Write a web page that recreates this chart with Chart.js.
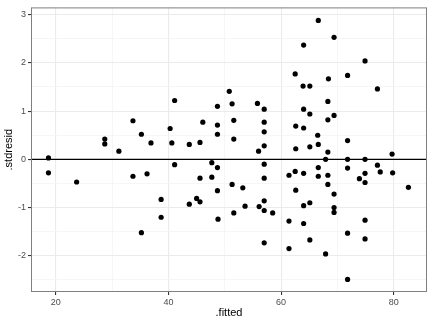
<!DOCTYPE html>
<html>
<head>
<meta charset="utf-8">
<script src="https://cdn.jsdelivr.net/npm/chart.js@4"></script>
<style>
  html, body { margin: 0; padding: 0; background: #fff; }
</style>
</head>
<body>
<canvas id="residChart" width="432" height="324"></canvas>
<script>
// fitted values vs standardised residuals
const fitted = [
    18.7, 18.7, 23.7, 28.7, 28.7, 31.2, 33.7, 33.7, 35.2, 35.2,
    36.9, 36.2, 38.7, 38.7, 40.3, 40.6, 41.1, 41.1, 43.7, 43.7,
    45.0, 45.6, 45.6, 45.6, 46.1, 47.7, 47.7, 48.7, 48.7, 48.7,
    48.7, 48.7, 48.8, 50.8, 51.3, 51.6, 51.6, 51.3, 51.6, 53.2,
    53.6, 55.8, 56.0, 56.1, 57.0, 57.0, 57.0, 57.0, 57.0, 57.0,
    57.0, 57.0, 57.0, 58.5, 61.4, 61.4, 61.4, 62.5, 62.6, 62.6,
    62.5, 62.6, 64.0, 63.9, 64.0, 64.0, 64.0, 64.0, 64.0, 65.1,
    65.1, 65.1, 65.1, 65.1, 66.6, 66.5, 66.6, 66.6, 66.6, 67.9,
    67.9, 68.4, 68.3, 68.3, 68.3, 68.3, 68.3, 69.4, 69.4, 69.4,
    69.4, 69.4, 71.8, 71.8, 71.8, 71.8, 71.8, 71.8, 73.9, 74.9,
    74.9, 74.9, 74.9, 74.9, 74.9, 77.1, 77.1, 77.6, 79.7, 79.8,
    82.6
];
const stdresid = [
    0.03, -0.28, -0.47, 0.42, 0.32, 0.17, 0.80, -0.35, 0.52, -1.52,
    0.34, -0.30, -0.83, -1.20, 0.64, 0.34, 1.22, -0.11, 0.31, -0.93,
    -0.81, 0.35, -0.39, -0.88, 0.77, -0.07, -0.37, 1.10, 0.71, 0.52,
    -0.17, -0.65, -1.24, 1.41, 1.15, 0.81, 0.42, -0.52, -1.11, -0.59,
    -0.97, 1.16, 0.17, -0.98, 1.04, 0.77, 0.57, 0.28, -0.10, -0.39,
    -0.86, -1.06, -1.73, -1.11, -0.33, -1.28, -1.85, 1.77, 0.69, 0.22,
    -0.25, -0.64, 2.37, 1.52, 1.04, 0.65, -0.29, -0.96, -1.33, 1.52,
    0.94, 0.26, -0.90, -1.67, 2.88, 0.50, 0.31, -0.17, -0.35, 0.00,
    -1.96, 1.67, 1.20, 0.82, 0.15, -0.33, -0.52, 2.53, 0.91, -0.72,
    -1.00, -1.10, 1.74, 0.39, 0.00, -0.18, -1.53, -2.49, -0.40, 2.04,
    0.00, -0.29, -0.48, -1.26, -1.65, 1.46, -0.12, -0.26, 0.11, -0.28,
    -0.58
];

const xTicks = [20, 40, 60, 80];
const xMinor = [30, 50, 70];
const yTicks = [-2, -1, 0, 1, 2, 3];
const yMinor = [-2.5, -1.5, -0.5, 0.5, 1.5, 2.5];
const xRange = [15.6, 85.9];
const yRange = [-2.75, 3.15];
const refLine = 0;

const fontFamily = '"Liberation Sans", Arial, Helvetica, sans-serif';

function allTicks(major, minor) {
    return major.concat(minor).sort((a, b) => a - b).map(v => ({ value: v }));
}

function gridColor(major) {
    return function (ctx) {
        return ctx.tick && major.includes(ctx.tick.value) ? '#EBEBEB' : '#F4F4F4';
    };
}

function tickColor(major) {
    return function (ctx) {
        return ctx.tick && major.includes(ctx.tick.value) ? '#333333' : 'rgba(0,0,0,0)';
    };
}

// ggplot theme_bw style border round the panel
const panelBorder = {
    id: 'panelBorder',
    afterDraw(chart) {
        const { ctx, chartArea: a } = chart;
        ctx.save();
        ctx.strokeStyle = '#7F7F7F';
        ctx.lineWidth = 1;
        ctx.strokeRect(a.left + 0.5, a.top + 0.5, a.right - a.left - 1, a.bottom - a.top - 1);
        ctx.restore();
    }
};

const ctx = document.getElementById('residChart').getContext('2d');
new Chart(ctx, {
    type: 'scatter',
    data: {
        datasets: [{
            type: 'line',
            data: [{ x: xRange[0], y: refLine }, { x: xRange[1], y: refLine }],
            borderColor: '#000000',
            borderWidth: 1.1,
            pointRadius: 0,
            fill: false,
            order: 0
        }, {
            data: fitted.map((f, i) => ({ x: f, y: stdresid[i] })),
            backgroundColor: '#000000',
            borderWidth: 0,
            pointRadius: 2.6,
            order: 1
        }]
    },
    options: {
        responsive: false,
        devicePixelRatio: 1,
        animation: false,
        layout: {
            padding: { left: 0, top: 5, right: 5, bottom: 0 }
        },
        plugins: {
            legend: { display: false },
            tooltip: { enabled: false }
        },
        scales: {
            x: {
                type: 'linear',
                min: xRange[0],
                max: xRange[1],
                afterBuildTicks: function (scale) { scale.ticks = allTicks(xTicks, xMinor); },
                afterFit: function (scale) { scale.height = 32; },
                border: { display: false },
                grid: {
                    color: gridColor(xTicks),
                    lineWidth: ctx => ctx.tick && xTicks.includes(ctx.tick.value) ? 1.1 : 0.8,
                    tickLength: 3,
                    tickColor: tickColor(xTicks)
                },
                ticks: {
                    autoSkip: false,
                    maxRotation: 0,
                    padding: 2,
                    color: '#4D4D4D',
                    font: { family: fontFamily, size: 9 },
                    callback: function (value) { return xTicks.includes(value) ? String(value) : ''; }
                },
                title: {
                    display: true,
                    text: '.fitted',
                    color: '#000000',
                    font: { family: fontFamily, size: 11 },
                    padding: { top: 0, bottom: 4 }
                }
            },
            y: {
                type: 'linear',
                min: yRange[0],
                max: yRange[1],
                afterBuildTicks: function (scale) { scale.ticks = allTicks(yTicks, yMinor); },
                afterFit: function (scale) { scale.width = 31; },
                border: { display: false },
                grid: {
                    color: gridColor(yTicks),
                    lineWidth: ctx => ctx.tick && yTicks.includes(ctx.tick.value) ? 1.1 : 0.8,
                    tickLength: 3,
                    tickColor: tickColor(yTicks)
                },
                ticks: {
                    autoSkip: false,
                    padding: 2,
                    color: '#4D4D4D',
                    font: { family: fontFamily, size: 9 },
                    callback: function (value) { return yTicks.includes(value) ? String(value) : ''; }
                },
                title: {
                    display: true,
                    text: '.stdresid',
                    color: '#000000',
                    font: { family: fontFamily, size: 11 },
                    padding: { top: 2, bottom: 0 }
                }
            }
        }
    },
    plugins: [panelBorder]
});
</script>
</body>
</html>
